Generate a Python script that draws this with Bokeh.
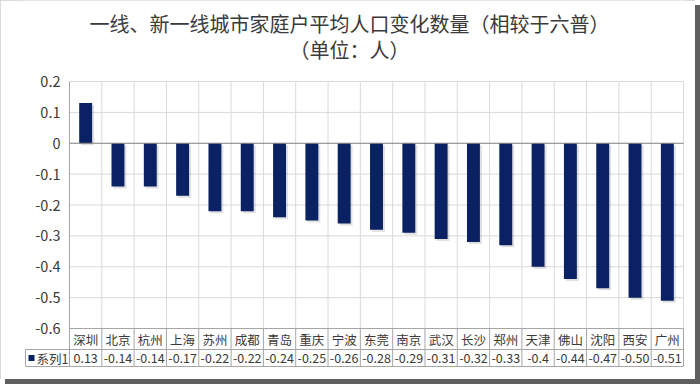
from bokeh.plotting import figure
from bokeh.models import Range1d, FixedTicker, ColumnDataSource
from bokeh.transform import dodge
from bokeh.core.properties import value
from bokeh.embed import file_html
from bokeh.resources import INLINE

# ---------------- data ----------------
cities = ["深圳", "北京", "杭州", "上海", "苏州", "成都", "青岛", "重庆", "宁波", "东莞",
          "南京", "武汉", "长沙", "郑州", "天津", "佛山", "沈阳", "西安", "广州"]
values = [0.13, -0.14, -0.14, -0.17, -0.22, -0.22, -0.24, -0.25, -0.26, -0.28,
          -0.29, -0.31, -0.32, -0.33, -0.4, -0.44, -0.47, -0.50, -0.51]
value_labels = ["0.13", "-0.14", "-0.14", "-0.17", "-0.22", "-0.22", "-0.24", "-0.25", "-0.26", "-0.28",
                "-0.29", "-0.31", "-0.32", "-0.33", "-0.4", "-0.44", "-0.47", "-0.50", "-0.51"]
y_ticks = [0.2, 0.1, 0, -0.1, -0.2, -0.3, -0.4, -0.5, -0.6]
y_tick_labels = ["0.2", "0.1", "0", "-0.1", "-0.2", "-0.3", "-0.4", "-0.5", "-0.6"]
series_name = "系列1"
title_lines = ["一线、新一线城市家庭户平均人口变化数量（相较于六普）", "（单位：人）"]

# ---------------- layout (canvas pixels) ----------------
W, H = 695, 379
FONT = "Noto Sans CJK SC"
BAR_COLOR = "#0a2263"
TEXT_COLOR = "#3a3a3a"
GRID_COLOR = "#d9d9d9"
TABLE_COLOR = "#a6a6a6"

n = len(cities)
PL, PR = 69, 683            # plot area left/right
FL, FR = 22, 686            # frame left/right
FT, FB = 0, 369             # frame top/bottom
Y0_PX = 81                  # canvas y of the top tick
PXU = 308.75                # pixels per unit on y
ROW1, ROW2 = 21, 17         # table row heights
LEG_L = 25                  # legend cell left
TITLE_CX = 349              # title centre
TITLE_Y = [23, 49]          # title line centres

cw = (PR - PL) / n
def xpx(px):
    return (px - PL) / cw
def ypx(px):
    return y_ticks[0] - (px - Y0_PX) / PXU

y_bottom_tick = y_ticks[-1]
bottom_px = Y0_PX + (y_ticks[0] - y_bottom_tick) * PXU
row_mid = ypx(bottom_px + ROW1)
row_bot = ypx(bottom_px + ROW1 + ROW2)
row1_y = (y_bottom_tick + row_mid) / 2
row2_y = (row_mid + row_bot) / 2
x_leg = xpx(LEG_L)

p = figure(width=W, height=H, output_backend="svg", toolbar_location=None,
           x_range=Range1d(xpx(FL), xpx(FR)), y_range=Range1d(ypx(FB), ypx(FT)),
           min_border_left=FL, min_border_right=W - FR,
           min_border_top=FT, min_border_bottom=H - FB,
           background_fill_color="white", border_fill_color="white",
           styles={"box-shadow": "5px 5px 0 0 #5f5f5f",
                   "outline": "2px solid #d0d0d0", "outline-offset": "-2px"})
p.outline_line_color = None
p.xaxis.visible = False
p.xgrid.grid_line_color = None
p.ygrid.grid_line_color = None

# y axis
yax = p.yaxis[0]
yax.ticker = FixedTicker(ticks=y_ticks)
yax.major_label_overrides = {t: s for t, s in zip(y_ticks, y_tick_labels)}
yax.axis_line_color = None
yax.major_tick_line_color = None
yax.minor_tick_line_color = None
yax.major_label_standoff = -44
yax.major_label_text_font = FONT
yax.major_label_text_font_size = "14.5px"
yax.major_label_text_color = TEXT_COLOR

# title (two centred lines)
p.text(x=[xpx(TITLE_CX)] * len(title_lines), y=[ypx(t) for t in TITLE_Y], text=title_lines,
       text_align="center", text_baseline="middle", text_font=value(FONT),
       text_font_size="20px", text_color=TEXT_COLOR)

# grid lines
grid_y = [t for t in y_ticks if t not in (0, y_bottom_tick)]
p.segment(x0=[0] * len(grid_y), x1=[n] * len(grid_y), y0=grid_y, y1=grid_y,
          line_color=GRID_COLOR, line_width=1)
vx = list(range(1, n + 1))
p.segment(x0=vx, x1=vx, y0=[y_bottom_tick] * n, y1=[y_ticks[0]] * n,
          line_color=GRID_COLOR, line_width=1)

# bars (with faint shadow)
src = ColumnDataSource(dict(x=[i + 0.5 for i in range(n)], top=values,
                            stop=[v - 2 / PXU for v in values]))
p.vbar(x=dodge("x", 2 / cw), top="stop", bottom=-2 / PXU, width=0.4, source=src,
       fill_color="#000000", fill_alpha=0.12, line_color=None)
p.vbar(x="x", top="top", bottom=0, width=0.4, source=src,
       fill_color=BAR_COLOR, line_color=None)

# zero line and left axis line
p.segment(x0=[0], x1=[n], y0=[0], y1=[0], line_color="#7f7f7f", line_width=1)
p.segment(x0=[0], x1=[0], y0=[row_bot], y1=[y_ticks[0]], line_color=TABLE_COLOR, line_width=1)

# data table lines
p.segment(x0=[0, x_leg, x_leg], x1=[n, n, n], y0=[y_bottom_tick, row_mid, row_bot],
          y1=[y_bottom_tick, row_mid, row_bot], line_color=TABLE_COLOR, line_width=1)
p.segment(x0=vx, x1=vx, y0=[row_bot] * n, y1=[y_bottom_tick] * n,
          line_color=TABLE_COLOR, line_width=1)
p.segment(x0=[x_leg], x1=[x_leg], y0=[row_bot], y1=[row_mid], line_color=TABLE_COLOR, line_width=1)

# table text
xs = [i + 0.5 for i in range(n)]
p.text(x=xs, y=[row1_y] * n, text=cities, text_align="center", text_baseline="middle",
       text_font=value(FONT), text_font_size="12.5px", text_color=TEXT_COLOR)
p.text(x=xs, y=[row2_y] * n, text=value_labels, text_align="center", text_baseline="middle",
       text_font=value(FONT), text_font_size="12.5px", text_color=TEXT_COLOR)

# legend key cell
p.scatter(x=[xpx(LEG_L + 6)], y=[row2_y], marker="square", size=6,
          fill_color=BAR_COLOR, line_color=None)
p.text(x=[xpx(LEG_L + 11)], y=[row2_y], text=[series_name], text_align="left",
       text_baseline="middle", text_font=value(FONT), text_font_size="12.5px",
       text_color=TEXT_COLOR)

open("out.html", "w").write(file_html(p, INLINE))
